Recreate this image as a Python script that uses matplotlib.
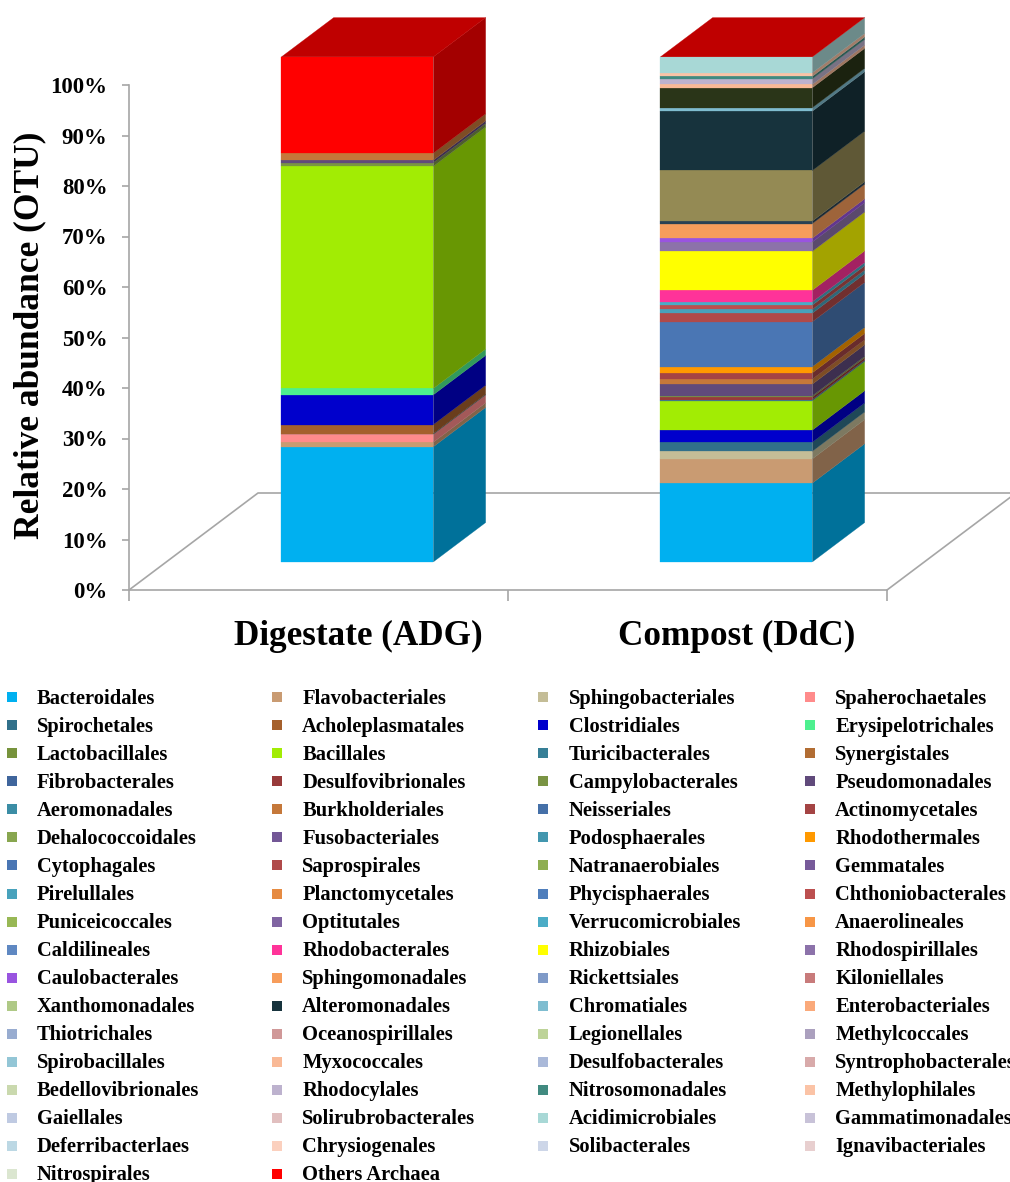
import matplotlib
matplotlib.use('Agg')
import matplotlib.pyplot as plt
from matplotlib.colors import to_rgb

plt.rcParams['font.family'] = ['Liberation Serif', 'DejaVu Serif']
plt.rcParams['font.weight'] = 'bold'

W, H = 1010, 1182

orders = [
    'Bacteroidales', 'Flavobacteriales', 'Sphingobacteriales', 'Spaherochaetales',
    'Spirochetales', 'Acholeplasmatales', 'Clostridiales', 'Erysipelotrichales',
    'Lactobacillales', 'Bacillales', 'Turicibacterales', 'Synergistales',
    'Fibrobacterales', 'Desulfovibrionales', 'Campylobacterales', 'Pseudomonadales',
    'Aeromonadales', 'Burkholderiales', 'Neisseriales', 'Actinomycetales',
    'Dehalococcoidales', 'Fusobacteriales', 'Podosphaerales', 'Rhodothermales',
    'Cytophagales', 'Saprospirales', 'Natranaerobiales', 'Gemmatales',
    'Pirelullales', 'Planctomycetales', 'Phycisphaerales', 'Chthoniobacterales',
    'Puniceicoccales', 'Optitutales', 'Verrucomicrobiales', 'Anaerolineales',
    'Caldilineales', 'Rhodobacterales', 'Rhizobiales', 'Rhodospirillales',
    'Caulobacterales', 'Sphingomonadales', 'Rickettsiales', 'Kiloniellales',
    'Xanthomonadales', 'Alteromonadales', 'Chromatiales', 'Enterobacteriales',
    'Thiotrichales', 'Oceanospirillales', 'Legionellales', 'Methylcoccales',
    'Spirobacillales', 'Myxococcales', 'Desulfobacterales', 'Syntrophobacterales',
    'Bedellovibrionales', 'Rhodocylales', 'Nitrosomonadales', 'Methylophilales',
    'Gaiellales', 'Solirubrobacterales', 'Acidimicrobiales', 'Gammatimonadales',
    'Deferribacterlaes', 'Chrysiogenales', 'Solibacterales', 'Ignavibacteriales',
    'Nitrospirales', 'Others Archaea',
]

legend_colors = [
    '#00B0F0', '#C99B72', '#C4BD97', '#FF8B8B',
    '#31708A', '#A5602C', '#0000CC', '#4DF08F',
    '#77933C', '#A2EC04', '#367F96', '#B26D33',
    '#3F659C', '#983A3A', '#7A9444', '#604A7B',
    '#3B8DA5', '#C5783A', '#4570A8', '#A44444',
    '#88A64F', '#735796', '#4397AF', '#FF9900',
    '#4A76B4', '#B04A4A', '#8EAE51', '#775A9A',
    '#48A2BC', '#E68B42', '#4F7EBC', '#BC4F4F',
    '#98B855', '#8064A2', '#4BACC6', '#F79646',
    '#5F88C2', '#FF3399', '#FFFF00', '#8C72AA',
    '#9954E0', '#F79D5B', '#7F9AC8', '#C87B7B',
    '#AFC986', '#17333D', '#7FBDD0', '#FAA97A',
    '#98ACD0', '#D09898', '#BDD398', '#ABA0BE',
    '#93C6D6', '#F9B996', '#AAB9D9', '#D8AAAA',
    '#CAD9AE', '#BDB2CE', '#418A80', '#FBC3A6',
    '#BFCAE2', '#E1BFBF', '#A8D8D6', '#C8C2D8',
    '#BCD8E4', '#FBD0BE', '#CDD6E8', '#E8CFCF',
    '#DBE6D0', '#FF0000',
]

# a few bar layers were recoloured by hand, the legend keeps the old swatches
bar_colors = {
    'Kiloniellales': '#2B4152',
    'Xanthomonadales': '#948A54',
    'Enterobacteriales': '#2A3518',
}

samples = ['Digestate (ADG)', 'Compost (DdC)']

digestate = [
    22.8, 0.9, 0, 1.6,
    0.1, 1.8, 5.9, 1.25,
    0, 44.0, 0, 0,
    0, 0, 0.7, 0.5,
    0, 1.4, 0, 0,
    0, 0, 0, 0,
    0, 0, 0, 0,
    0, 0, 0, 0,
    0, 0, 0, 0,
    0, 0, 0, 0,
    0, 0, 0, 0,
    0, 0, 0, 0,
    0, 0, 0, 0,
    0, 0, 0, 0,
    0, 0, 0, 0,
    0, 0, 0, 0,
    0, 0, 0, 0,
    0, 19.05,
]

compost = [
    15.6, 4.8, 1.5, 0,
    1.8, 0, 2.4, 0,
    0, 5.8, 0.25, 0,
    0, 0.5, 0.25, 2.3,
    0, 1.0, 0, 1.25,
    0, 0, 0, 1.2,
    8.9, 1.7, 0, 0,
    0.75, 0, 0, 0.85,
    0, 0, 0.65, 0,
    0, 2.3, 7.7, 1.85,
    0.75, 2.9, 0, 0.5,
    10.0, 11.75, 0.7, 3.95,
    0, 0, 0, 0,
    0, 0.65, 0, 0,
    0, 1.1, 0.5, 0.7,
    0, 0, 3.15, 0,
    0, 0, 0, 0,
    0, 0,
]

y_ticks = list(range(0, 101, 10))

# fake 3D: depth 1 moves a point this far, in data units
DEPTH_X = 129 / 379
DEPTH_Y = 97 / 5.05
BAR_LEFT = 0.3035
BAR_WIDTH = 0.401
DEPTH_START = 0.29
DEPTH_SIZE = 0.405
SIDE_SHADE = 0.64
TOP_SHADE = 0.75
AXIS_GRAY = '#A6A6A6'


def shade(color, factor):
    return tuple(c * factor for c in to_rgb(color))


def project(x, y, depth):
    return x + depth * DEPTH_X, y + depth * DEPTH_Y


fig = plt.figure(figsize=(W / 100, H / 100), dpi=100)
ax = fig.add_axes([129 / W, 1 - 590 / H, 758 / W, 505 / H])
ax.set_xlim(0, 2)
ax.set_ylim(0, 100)

for side in ['top', 'right']:
    ax.spines[side].set_visible(False)
for side in ['left', 'bottom']:
    ax.spines[side].set_color(AXIS_GRAY)
    ax.spines[side].set_linewidth(1.2)

ax.set_yticks(y_ticks)
ax.set_yticklabels(['%d%%' % t for t in y_ticks])
ax.tick_params(axis='y', length=5, width=1.2, color=AXIS_GRAY, labelsize=16.5, pad=10.5)
ax.set_xticks([0, 1, 2])
ax.set_xticklabels([])
ax.tick_params(axis='x', which='major', length=8, width=1.2, color=AXIS_GRAY)
ax.set_xticks([i + 0.604 for i in range(len(samples))], samples, minor=True)
ax.tick_params(axis='x', which='minor', length=0, labelsize=25.3, pad=21.5)
ax.set_ylabel('Relative abundance (OTU)', fontsize=25.5, fontweight='bold')
ax.yaxis.set_label_coords((46 - 129) / 758, 0.505)

# floor outline, the bars cover it where they overlap
back_l = project(0, 0, 1)
back_r = project(2, 0, 1)
ax.plot([0, back_l[0], back_r[0], 2], [0, back_l[1], back_r[1], 0],
        color=AXIS_GRAY, lw=1.2, clip_on=False, zorder=1)

d0, d1 = DEPTH_START, DEPTH_START + DEPTH_SIZE
for i, values in enumerate([digestate, compost]):
    x0 = i + BAR_LEFT
    x1 = x0 + BAR_WIDTH
    bottom = 0
    for name, color, value in zip(orders, legend_colors, values):
        if value == 0:
            continue
        color = bar_colors.get(name, color)
        fx0, fy0 = project(x0, bottom, d0)
        ax.bar(fx0, value, width=BAR_WIDTH, bottom=fy0, align='edge', color=color,
               edgecolor=color, lw=0.2, clip_on=False, zorder=3)
        # right-hand face of this layer
        p = [project(x1, bottom, d0), project(x1, bottom, d1),
             project(x1, bottom + value, d1), project(x1, bottom + value, d0)]
        ax.fill([q[0] for q in p], [q[1] for q in p], color=shade(color, SIDE_SHADE),
                lw=0.2, clip_on=False, zorder=3)
        bottom += value
    # the zero-height Others layer still paints the lid of the compost bar
    lid = [project(x0, bottom, d0), project(x1, bottom, d0),
           project(x1, bottom, d1), project(x0, bottom, d1)]
    ax.fill([q[0] for q in lid], [q[1] for q in lid],
            color=shade(legend_colors[-1], TOP_SHADE), lw=0.2, clip_on=False, zorder=3)

# legend grid, filled row by row
leg = fig.add_axes([0, 0, 1, 1])
leg.set_xlim(0, W)
leg.set_ylim(H, 0)
leg.axis('off')
col_x = [11.7, 277, 543.3, 810]
for n, (name, color) in enumerate(zip(orders, legend_colors)):
    row, col = divmod(n, 4)
    leg.scatter(col_x[col], 697 + row * 28.08, marker='s', s=57, color=color, lw=0)
    leg.text(col_x[col] + 25.2, 704 + row * 27.98, name, fontsize=14.8, va='baseline', ha='left')

fig.savefig('out.png', dpi=100)
